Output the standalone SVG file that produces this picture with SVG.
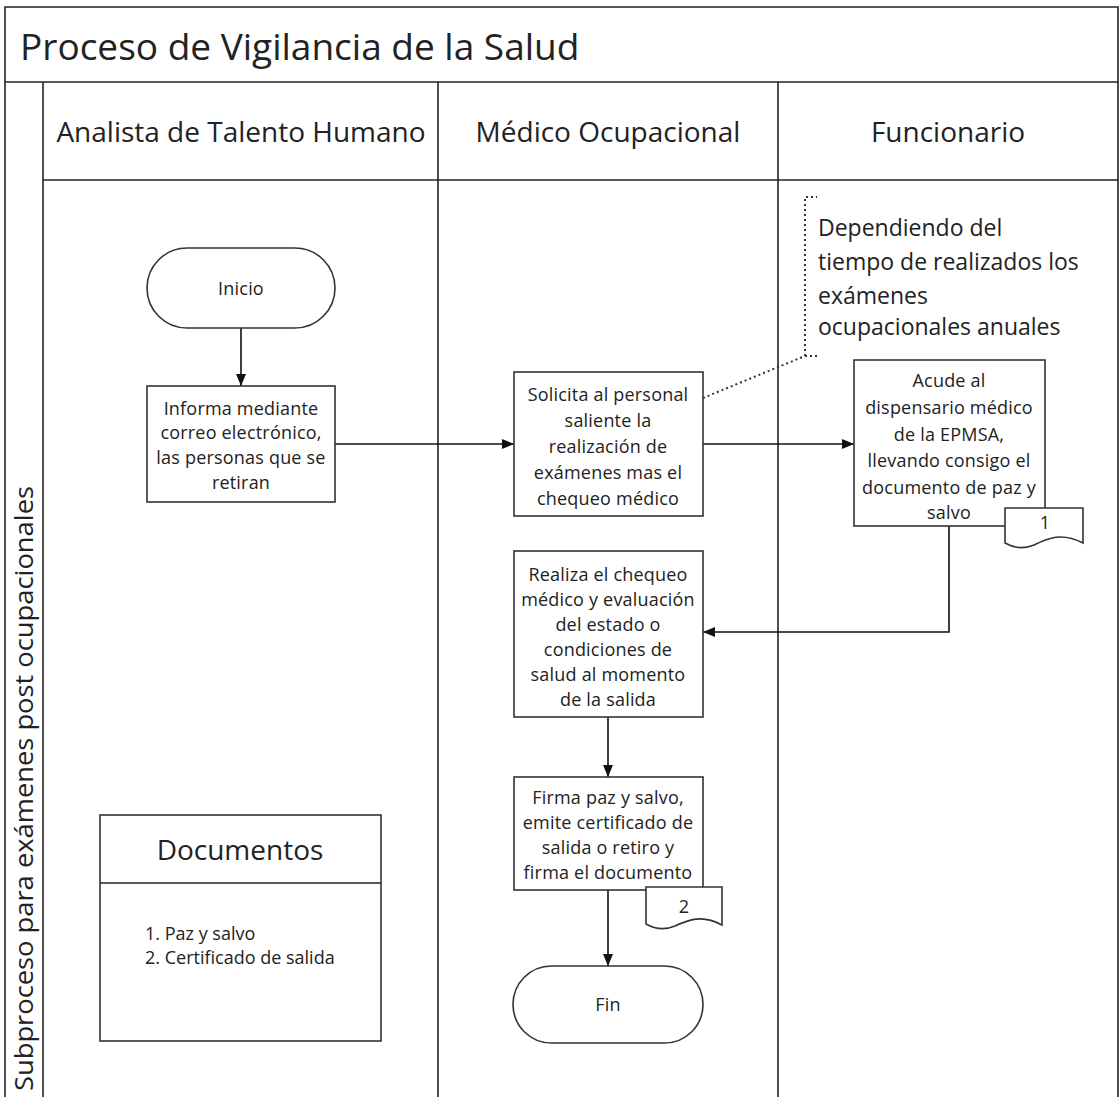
<svg xmlns="http://www.w3.org/2000/svg" width="1120" height="1097" viewBox="0 0 1120 1097">
<style>
.ln{stroke:#222;stroke-width:1.6;fill:none}
.box{fill:#fff;stroke:#333;stroke-width:1.6}
.t{font-family:"Open Sans","Liberation Sans",sans-serif;fill:#222}
.bt{font-family:"Open Sans","Liberation Sans",sans-serif;fill:#222;font-size:18px;text-anchor:middle;letter-spacing:0.2px}
.hd{font-family:"Open Sans","Liberation Sans",sans-serif;fill:#222;font-size:28px;text-anchor:middle}
.c{stroke:#111;stroke-width:1.6;fill:none}
</style>
<defs>
<marker id="ah" viewBox="0 0 12 10" refX="12" refY="5" markerWidth="12" markerHeight="10" markerUnits="userSpaceOnUse" orient="auto">
<path d="M0,0 L12,5 L0,10 Z" fill="#111"/>
</marker>
</defs>
<rect width="1120" height="1097" fill="#fff"/>
<g id="frame">
<path class="ln" d="M5,1097 V7 H1118 V1097"/>
<line class="ln" x1="5" y1="82" x2="1118" y2="82"/>
<line class="ln" x1="43" y1="82" x2="43" y2="1097"/>
<line class="ln" x1="438" y1="82" x2="438" y2="1097"/>
<line class="ln" x1="778" y1="82" x2="778" y2="1097"/>
<line class="ln" x1="43" y1="180" x2="1118" y2="180"/>
<text class="t" x="20" y="60" font-size="37">Proceso de Vigilancia de la Salud</text>
<text class="hd" x="241" y="142">Analista de Talento Humano</text>
<text class="hd" x="608" y="142">Médico Ocupacional</text>
<text class="hd" x="948" y="142">Funcionario</text>
<text class="t" font-size="25" transform="translate(33,1091) rotate(-90)" textLength="605" lengthAdjust="spacingAndGlyphs">Subproceso para exámenes post ocupacionales</text>
</g>
<g id="connectors">
<line class="c" x1="241" y1="328" x2="241" y2="386" marker-end="url(#ah)"/>
<line class="c" x1="335" y1="444" x2="514" y2="444" marker-end="url(#ah)"/>
<line class="c" x1="703" y1="444" x2="854" y2="444" marker-end="url(#ah)"/>
<path class="c" d="M949,526 V632 H703" marker-end="url(#ah)"/>
<line class="c" x1="608" y1="717" x2="608" y2="777" marker-end="url(#ah)"/>
<line class="c" x1="608" y1="890" x2="608" y2="966" marker-end="url(#ah)"/>
<path d="M703,398 L805,356 M805,356 H817 M805,356 V197 H817" stroke="#333" stroke-width="2" stroke-dasharray="2,3" fill="none"/>
</g>
<g id="inicio">
<rect class="box" x="147" y="248" width="188" height="80" rx="40" ry="40"/>
<text class="bt" x="241" y="295">Inicio</text>
</g>
<g id="informa">
<rect class="box" x="147" y="386" width="188" height="116"/>
<text class="bt" x="241" y="415">Informa mediante</text>
<text class="bt" x="241" y="439">correo electrónico,</text>
<text class="bt" x="241" y="464">las personas que se</text>
<text class="bt" x="241" y="489">retiran</text>
</g>
<g id="solicita">
<rect class="box" x="514" y="372" width="189" height="144"/>
<text class="bt" x="608" y="401">Solicita al personal</text>
<text class="bt" x="608" y="427">saliente la</text>
<text class="bt" x="608" y="453">realización de</text>
<text class="bt" x="608" y="479">exámenes mas el</text>
<text class="bt" x="608" y="505">chequeo médico</text>
</g>
<g id="nota">
<text class="t" font-size="23" x="818" y="236">Dependiendo del</text>
<text class="t" font-size="23" x="818" y="270">tiempo de realizados los</text>
<text class="t" font-size="23" x="818" y="304">exámenes</text>
<text class="t" font-size="23" x="818" y="335">ocupacionales anuales</text>
</g>
<g id="acude">
<rect class="box" x="854" y="360" width="191" height="166"/>
<text class="bt" x="949" y="387">Acude al</text>
<text class="bt" x="949" y="414">dispensario médico</text>
<text class="bt" x="949" y="441">de la EPMSA,</text>
<text class="bt" x="949" y="467">llevando consigo el</text>
<text class="bt" x="949" y="494">documento de paz y</text>
<text class="bt" x="949" y="519">salvo</text>
</g>
<g id="doc1">
<path class="box" d="M1005,508 H1083 V543 C1062,532 1048,538 1034,545 C1022,550 1012,547 1005,543 Z"/>
<text class="bt" x="1045" y="529">1</text>
</g>
<g id="realiza">
<rect class="box" x="514" y="551" width="189" height="166"/>
<text class="bt" x="608" y="581">Realiza el chequeo</text>
<text class="bt" x="608" y="606">médico y evaluación</text>
<text class="bt" x="608" y="631">del estado o</text>
<text class="bt" x="608" y="656">condiciones de</text>
<text class="bt" x="608" y="681">salud al momento</text>
<text class="bt" x="608" y="706">de la salida</text>
</g>
<g id="firma">
<rect class="box" x="514" y="777" width="189" height="113"/>
<text class="bt" x="608" y="804">Firma paz y salvo,</text>
<text class="bt" x="608" y="829">emite certificado de</text>
<text class="bt" x="608" y="854">salida o retiro y</text>
<text class="bt" x="608" y="879">firma el documento</text>
</g>
<g id="doc2">
<path class="box" d="M646,887 H722 V925 C702,914 688,920 675,926 C663,931 653,928 646,924 Z"/>
<text class="bt" x="684" y="913">2</text>
</g>
<g id="fin">
<rect class="box" x="513" y="966" width="190" height="77" rx="38.5" ry="38.5"/>
<text class="bt" x="608" y="1011">Fin</text>
</g>
<g id="documentos">
<rect class="box" x="100" y="815" width="281" height="226"/>
<line class="ln" x1="100" y1="883" x2="381" y2="883"/>
<text class="hd" x="240" y="860" font-size="31">Documentos</text>
<text class="t" font-size="18" x="145" y="940">1. Paz  y salvo</text>
<text class="t" font-size="18" x="145" y="964">2. Certificado de salida</text>
</g>
</svg>
